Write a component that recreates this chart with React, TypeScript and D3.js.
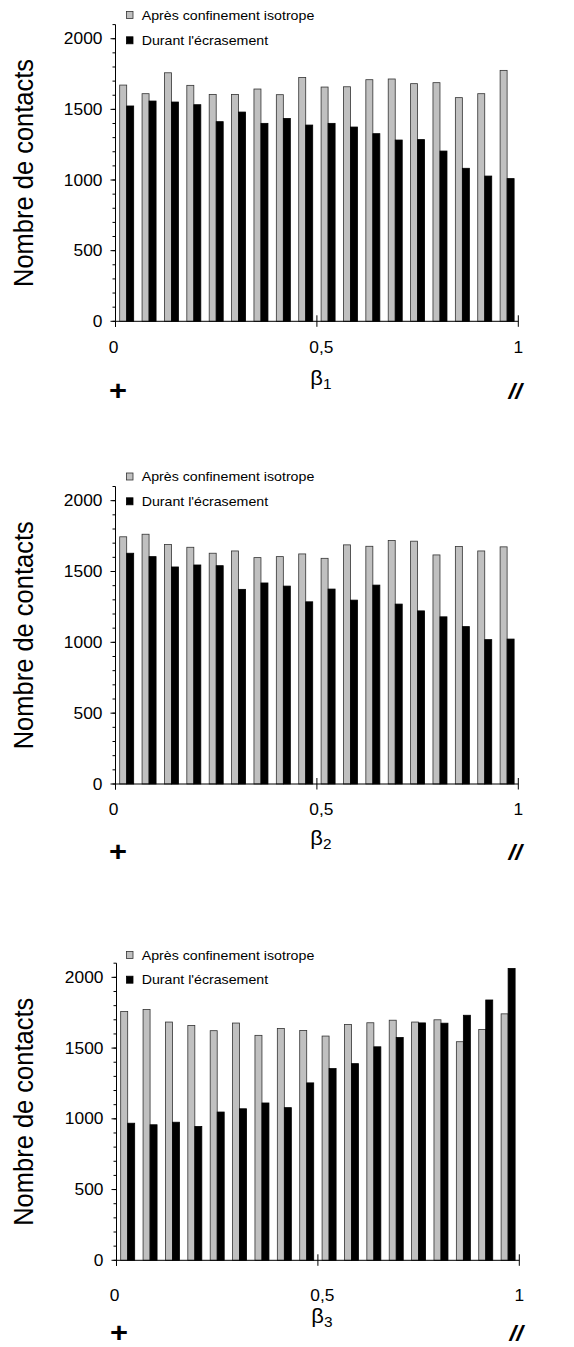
import React from "react";
import * as d3 from "d3";

// ---- data ----
const bins = d3.range(18); // 18 classes of β between 0 and 1
const seriesNames = ["Après confinement isotrope", "Durant l'écrasement"];
const apres1 = [1672, 1611, 1759, 1670, 1606, 1606, 1644, 1604, 1726, 1658, 1660, 1710, 1715, 1682, 1689, 1583, 1611, 1776];
const durant1 = [1524, 1559, 1552, 1533, 1413, 1481, 1401, 1436, 1389, 1401, 1375, 1328, 1283, 1286, 1205, 1083, 1028, 1010];
const apres2 = [1745, 1763, 1690, 1671, 1629, 1645, 1598, 1605, 1624, 1593, 1688, 1678, 1719, 1714, 1617, 1676, 1645, 1674];
const durant2 = [1629, 1605, 1532, 1546, 1541, 1374, 1419, 1397, 1286, 1376, 1298, 1404, 1270, 1222, 1180, 1111, 1019, 1023];
const apres3 = [1758, 1773, 1684, 1660, 1623, 1677, 1590, 1639, 1625, 1585, 1667, 1679, 1697, 1684, 1700, 1545, 1632, 1742];
const durant3 = [969, 958, 976, 946, 1048, 1071, 1112, 1079, 1254, 1355, 1390, 1509, 1575, 1678, 1676, 1732, 1840, 2063];
const yMajorTicks = [0, 500, 1000, 1500, 2000];
const yMinorTicks = d3.range(0, 2101, 100);
const xTicks = [0, 0.5, 1];
const xTickLabels = ["0", "0,5", "1"];
const yLabel = "Nombre de contacts";
const subscripts = ["1", "2", "3"];

const FONT = "'Liberation Sans', Arial, Helvetica, sans-serif";
const SX = 1.1;
const GRAY = "#c0c0c0";

// ---- layout ----
const panels = [
  { a: apres1, d: durant1, x0: 115.5, x1: 518.3, top: 24.6, bottom: 321.3, leg1: 15, leg2: 40.3, xLab: 31.4, beta: 63.5, sym: 70 },
  { a: apres2, d: durant2, x0: 115.5, x1: 518.3, top: 486.5, bottom: 784, leg1: 476.5, leg2: 501.3, xLab: 31, beta: 61, sym: 68 },
  { a: apres3, d: durant3, x0: 116.5, x1: 519.3, top: 963.2, bottom: 1260.3, leg1: 955, leg2: 979.7, xLab: 41, beta: 62.5, sym: 73 },
];

function T({ x, y, size, anchor = "start", children, weight = "normal", style = "normal", rotate = 0 }: any) {
  return (
    <text
      transform={`translate(${x},${y}) scale(${SX},1)${rotate ? ` rotate(${rotate})` : ""}`}
      fontFamily={FONT}
      fontSize={size}
      textAnchor={anchor}
      fontWeight={weight}
      fontStyle={style}
      fill="#000"
    >
      {children}
    </text>
  );
}

function Panel({ p, idx }: any) {
  const x = d3.scaleLinear().domain([0, 1]).range([p.x0, p.x1]);
  const y = d3.scaleLinear().domain([0, 2100]).range([p.bottom, p.top]);
  const band = d3.scaleBand<number>().domain(bins).range([p.x0, p.x1]).paddingInner(0.3744).paddingOuter(0.1872);
  const sub = d3.scaleBand<number>().domain([0, 1]).range([0, band.bandwidth()]);
  const series = [p.a, p.d];
  return (
    <g>
      {series.map((vals: number[], si: number) =>
        bins.map((b) => (
          <rect
            key={`${si}-${b}`}
            x={(band(b) as number) + (sub(si) as number)}
            y={y(vals[b])}
            width={sub.bandwidth()}
            height={y(0) - y(vals[b])}
            fill={si === 0 ? GRAY : "#000"}
            stroke={si === 0 ? "#333" : "#000"}
            strokeWidth={0.8}
          />
        ))
      )}
      {/* y axis */}
      <line x1={p.x0} x2={p.x0} y1={y(2100)} y2={y(0) + 5.5} stroke="#000" strokeWidth={1} />
      {yMinorTicks.map((t) => (
        <line key={"m" + t} x1={p.x0 - 3} x2={p.x0} y1={y(t)} y2={y(t)} stroke="#000" strokeWidth={1} />
      ))}
      {yMajorTicks.map((t) => (
        <g key={"M" + t}>
          <line x1={p.x0 - 5} x2={p.x0} y1={y(t)} y2={y(t)} stroke="#000" strokeWidth={1} />
          <T x={p.x0 - 13} y={y(t) + 5.6} size={15.8} anchor="end">{String(t)}</T>
        </g>
      ))}
      {/* x axis */}
      <line x1={p.x0} x2={p.x1} y1={y(0)} y2={y(0)} stroke="#000" strokeWidth={1} />
      {xTicks.map((t, i) => (
        <g key={"x" + t}>
          <line x1={x(t)} x2={x(t)} y1={y(0) - 6} y2={y(0) + 5.5} stroke="#000" strokeWidth={1} />
          <T x={x(t) + (i === 1 ? 4.5 : i === 0 ? -2 : 0)} y={y(0) + p.xLab} size={15.8} anchor="middle">{xTickLabels[i]}</T>
        </g>
      ))}
      {/* axis titles */}
      <T x={33} y={(p.top + p.bottom) / 2} size={25.5} anchor="middle" rotate={-90}>{yLabel}</T>
      <text transform={`translate(${x(0.5) + 4},${y(0) + p.beta}) scale(${SX},1)`} fontFamily={FONT} fontSize={20} textAnchor="middle">
        β<tspan fontSize={14} dy={4}>{subscripts[idx]}</tspan>
      </text>
      <T x={x(0) + 2.5} y={y(0) + p.sym + 9} size={28} anchor="middle" weight="bold">+</T>
      <T x={x(1) - 3} y={y(0) + p.sym + 8} size={22} anchor="middle" weight="bold" style="italic">//</T>
      {/* legend */}
      {seriesNames.map((n, i) => (
        <g key={n}>
          <rect x={126.5} y={(i === 0 ? p.leg1 : p.leg2) - 3.5} width={6.5} height={7} fill={i === 0 ? GRAY : "#000"} stroke={i === 0 ? "#333" : "#000"} strokeWidth={0.8} />
          <T x={141.7} y={(i === 0 ? p.leg1 : p.leg2) + 4.7} size={12.9}>{n}</T>
        </g>
      ))}
    </g>
  );
}

export default function App() {
  return (
    <svg width={574} height={1347} style={{ position: "absolute", left: 0, top: 0, background: "#fff" }}>
      <rect width={574} height={1347} fill="#fff" />
      {panels.map((p, i) => (
        <Panel key={i} p={p} idx={i} />
      ))}
    </svg>
  );
}
